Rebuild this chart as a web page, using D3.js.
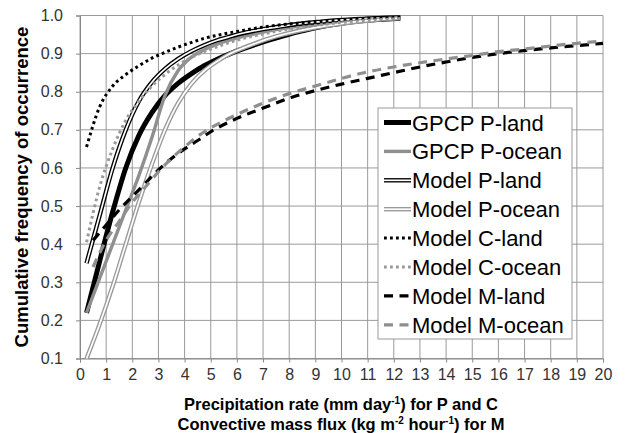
<!DOCTYPE html>
<html><head><meta charset="utf-8">
<script src="https://cdn.jsdelivr.net/npm/d3@7"></script>
<style>body{margin:0;background:#fff}svg{display:block;font-family:"Liberation Sans",Arial,sans-serif}</style>
</head><body><svg id="c" width="625" height="433"></svg>
<script>
const pX = [0.25,0.75,1.25,1.75,2.25,2.75,3.25,3.75,4.25,4.75,5.25,5.75,6.25,6.75,7.25,7.75,8.25,8.75,9.25,9.75,10.25,10.75,11.25,11.75,12.25];
const gpcpLand  = [0.22,0.355,0.485,0.6,0.685,0.745,0.79,0.822,0.847,0.868,0.885,0.9,0.913,0.925,0.936,0.946,0.956,0.964,0.971,0.977,0.982,0.986,0.989,0.991,0.993];
const gpcpOcean = [0.22,0.31,0.4,0.49,0.58,0.68,0.79,0.855,0.89,0.91,0.925,0.936,0.945,0.953,0.96,0.966,0.971,0.975,0.979,0.982,0.985,0.987,0.989,0.991,0.993];
const modelPLand  = [0.35,0.475,0.6,0.7,0.775,0.825,0.86,0.886,0.906,0.922,0.935,0.945,0.954,0.961,0.967,0.972,0.977,0.981,0.984,0.987,0.989,0.991,0.993,0.994,0.995];
const modelPOcean = [0.10,0.19,0.29,0.40,0.51,0.61,0.70,0.77,0.82,0.855,0.88,0.9,0.915,0.928,0.94,0.95,0.958,0.965,0.971,0.976,0.981,0.985,0.988,0.991,0.993];
const modelCLand  = [0.655,0.76,0.815,0.845,0.868,0.888,0.903,0.917,0.929,0.94,0.948,0.955,0.961,0.967,0.972,0.976,0.979,0.982,0.985,0.987,0.989,0.991,0.993,0.994,0.995];
const modelCOcean = [0.405,0.55,0.65,0.725,0.775,0.815,0.845,0.87,0.89,0.905,0.918,0.93,0.94,0.948,0.955,0.962,0.967,0.972,0.976,0.98,0.983,0.986,0.988,0.99,0.992];
const mX = [0.5,1,1.5,2,2.5,3,3.5,4,4.5,5,6,7,8,9,10,11,12,13,14,15,16,17,18,19,20];
const modelMLand  = [0.41,0.45,0.49,0.525,0.56,0.595,0.625,0.65,0.672,0.695,0.73,0.757,0.783,0.803,0.82,0.835,0.85,0.865,0.878,0.89,0.90,0.908,0.915,0.921,0.927];
const modelMOcean = [0.34,0.41,0.46,0.51,0.55,0.59,0.625,0.655,0.683,0.705,0.74,0.77,0.795,0.815,0.835,0.852,0.865,0.876,0.886,0.895,0.905,0.912,0.92,0.927,0.933];
const xTicks = d3.range(0,21,1);
const yTicks = [0.1,0.2,0.3,0.4,0.5,0.6,0.7,0.8,0.9,1.0];

const GRAY = "#8f8f8f";
const series = [
  {name:"GPCP P-land",  x:pX, y:gpcpLand,   color:"#000", w:5,   type:"solid"},
  {name:"GPCP P-ocean", x:pX, y:gpcpOcean,  color:GRAY,   w:3.4, type:"solid"},
  {name:"Model P-land", x:pX, y:modelPLand, color:"#000", w:4.4, type:"double"},
  {name:"Model P-ocean",x:pX, y:modelPOcean,color:"#999", w:4.4, type:"double"},
  {name:"Model C-land", x:pX, y:modelCLand, color:"#000", w:3, type:"dot"},
  {name:"Model C-ocean",x:pX, y:modelCOcean,color:"#999", w:3, type:"dot"},
  {name:"Model M-land", x:mX, y:modelMLand, color:"#000", w:3.2, type:"dash"},
  {name:"Model M-ocean",x:mX, y:modelMOcean,color:GRAY,   w:3.2, type:"dash"}
];

const svg = d3.select("#c");
const x = d3.scaleLinear().domain([0,20]).range([80,603]);
const y = d3.scaleLinear().domain([0.1,1.0]).range([358.5,15.5]);

// grid
const g = svg.append("g");
g.selectAll(".vg").data(xTicks).join("line")
  .attr("x1",d=>x(d)).attr("x2",d=>x(d)).attr("y1",y(0.1)).attr("y2",y(1.0))
  .attr("stroke","#9a9a9a").attr("stroke-width",1);
g.selectAll(".hg").data(yTicks).join("line")
  .attr("x1",x(0)).attr("x2",x(20)).attr("y1",d=>y(d)).attr("y2",d=>y(d))
  .attr("stroke","#9a9a9a").attr("stroke-width",1);

// axes
const xa = svg.append("g").attr("transform",`translate(0,${y(0.1)})`)
  .call(d3.axisBottom(x).tickValues(xTicks).tickSize(4).tickPadding(6).tickFormat(d3.format("d")));
const ya = svg.append("g").attr("transform",`translate(${x(0)},0)`)
  .call(d3.axisLeft(y).tickValues(yTicks).tickSize(4).tickPadding(13).tickFormat(d3.format(".1f")));
[xa,ya].forEach(a=>{
  a.select(".domain").attr("stroke","#888");
  a.selectAll(".tick line").attr("stroke","#888");
  a.selectAll("text").attr("font-size",16).attr("fill","#333").attr("font-family","Liberation Sans, Arial, sans-serif");
});

// lines
const line = d3.line().curve(d3.curveMonotoneX);
function drawSeries(sel, s, pts){
  if(s.type==="double"){
    sel.append("path").attr("d",line(pts)).attr("fill","none").attr("stroke",s.color).attr("stroke-width",s.w);
    sel.append("path").attr("d",line(pts)).attr("fill","none").attr("stroke","#fff").attr("stroke-width",1.7);
  } else {
    const p = sel.append("path").attr("d",line(pts)).attr("fill","none").attr("stroke",s.color).attr("stroke-width",s.w);
    if(s.type==="dot") p.attr("stroke-dasharray","2.8,3.2");
    if(s.type==="dash") p.attr("stroke-dasharray","9,6.5");
  }
}
const lg = svg.append("g");
series.forEach(s=>{
  const pts = s.x.map((v,i)=>[x(v), y(s.y[i])]);
  drawSeries(lg.append("g"), s, pts);
});

// legend
const L = {x:378, y:108, w:194, h:231};
const leg = svg.append("g");
leg.append("rect").attr("x",L.x).attr("y",L.y).attr("width",L.w).attr("height",L.h)
  .attr("fill","#fff").attr("stroke","#999").attr("stroke-width",1);
series.forEach((s,i)=>{
  const cy = 122.5 + i*28.9;
  const gi = leg.append("g");
  drawSeries(gi, s, [[384,cy],[411,cy]]);
  gi.append("text").attr("x",412).attr("y",cy+8).attr("font-size",22).attr("fill","#000").text(s.name);
});

// titles
const t1 = svg.append("text").attr("x",341).attr("y",410).attr("text-anchor","middle")
  .attr("font-weight","bold").attr("font-size",16.5).attr("fill","#000");
t1.append("tspan").text("Precipitation rate (mm day");
t1.append("tspan").attr("font-size",10).attr("dy",-6).text("-1");
t1.append("tspan").attr("dy",6).text(") for P and C");
const t2 = svg.append("text").attr("x",341).attr("y",430).attr("text-anchor","middle")
  .attr("font-weight","bold").attr("font-size",16.5).attr("fill","#000");
t2.append("tspan").text("Convective mass flux (kg m");
t2.append("tspan").attr("font-size",10).attr("dy",-6).text("-2");
t2.append("tspan").attr("dy",6).text(" hour");
t2.append("tspan").attr("font-size",10).attr("dy",-6).text("-1");
t2.append("tspan").attr("dy",6).text(") for M");
svg.append("text").attr("transform","translate(28,187) rotate(-90)").attr("text-anchor","middle")
  .attr("font-weight","bold").attr("font-size",18.5).attr("fill","#000")
  .text("Cumulative frequency of occurrence");
</script></body></html>
